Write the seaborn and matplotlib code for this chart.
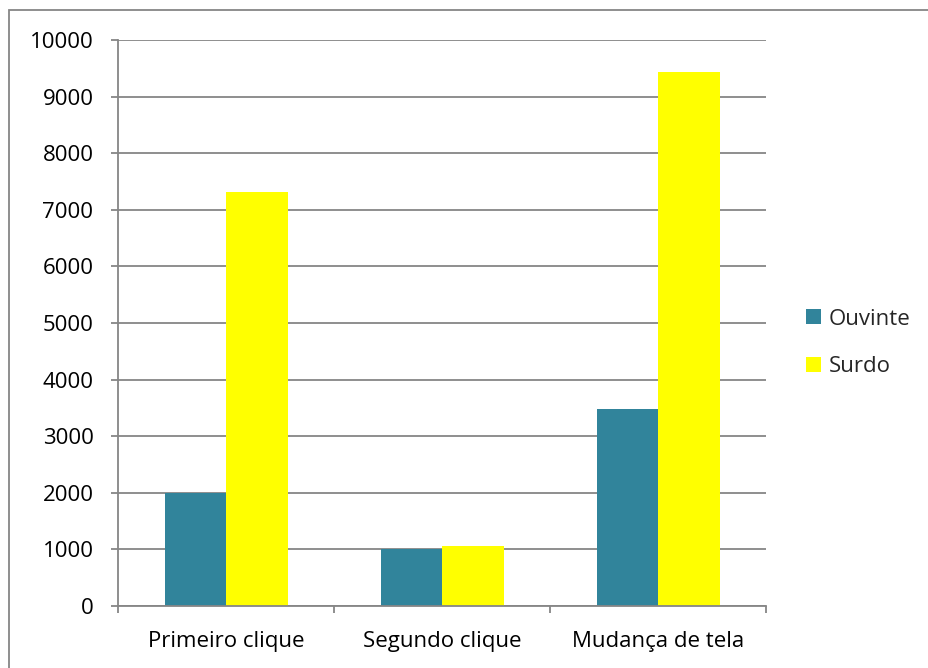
import matplotlib
matplotlib.use("Agg")
import matplotlib.pyplot as plt
from matplotlib.patches import Rectangle
import seaborn as sns
import pandas as pd

categories = ["Primeiro clique", "Segundo clique", "Mudança de tela"]
ouvinte = [2000, 1000, 3480]
surdo = [7310, 1060, 9430]
series_names = ["Ouvinte", "Surdo"]
colors = ["#31849B", "#FFFF00"]
y_ticks = list(range(0, 10001, 1000))

df = pd.DataFrame({
    "categoria": categories * 2,
    "grupo": [series_names[0]] * 3 + [series_names[1]] * 3,
    "valor": ouvinte + surdo,
})

sns.set_theme(style="white")
plt.rcParams["font.family"] = ["Open Sans", "DejaVu Sans"]

FS = 16
fig = plt.figure(figsize=(9.29, 6.68), dpi=100)
ax = fig.add_axes([118.5 / 929, 1 - 606 / 668, (766 - 118.5) / 929, (606 - 40) / 668])

sns.barplot(data=df, x="categoria", y="valor", hue="grupo",
            palette=colors, width=0.57, saturation=1, ax=ax,
            edgecolor="none", linewidth=0)

grid_c = "#868686"
ax.set_ylim(0, 10000)
ax.set_xlim(-0.5, 2.5)
ax.set_yticks(y_ticks)
ax.set_yticklabels([str(v) for v in y_ticks])
ax.yaxis.grid(True, color=grid_c, linewidth=1.3)
ax.set_axisbelow(True)
ax.set_xlabel("")
ax.set_ylabel("")

# category tick marks sit on the boundaries between groups
ax.set_xticks([-0.5, 0.5, 1.5, 2.5], minor=False)
ax.set_xticklabels([])
ax.set_xticks([0, 1, 2], minor=True)
ax.set_xticklabels(categories, minor=True)
ax.tick_params(axis="x", which="major", direction="out", length=5, width=1.3,
               color=grid_c, bottom=True)
ax.tick_params(axis="x", which="minor", length=0, pad=18, labelsize=FS,
               labelcolor="black")
ax.tick_params(axis="y", direction="out", length=5, width=1.3, color=grid_c,
               left=True, pad=13, labelsize=FS, labelcolor="black")

for side in ["top", "right"]:
    ax.spines[side].set_visible(False)
for side in ["left", "bottom"]:
    ax.spines[side].set_color(grid_c)
    ax.spines[side].set_linewidth(1.3)

ax.legend_.remove()
handles = [Rectangle((0, 0), 1, 1, facecolor=c, edgecolor="none") for c in colors]
fig.legend(handles, series_names, loc="center left",
           bbox_to_anchor=(806 / 929, 1 - 343 / 668), frameon=False,
           fontsize=FS, handlelength=0.67, handleheight=0.67,
           handletextpad=0.35, labelspacing=1.2, borderaxespad=0,
           borderpad=0)

# outer chart-area border
fig.patches.append(Rectangle((9.5 / 929, -0.1), 1.2, 1 - 10.5 / 668 + 0.1,
                             transform=fig.transFigure, fill=False,
                             edgecolor=grid_c, linewidth=1.3))

fig.savefig("out.png", dpi=100)
